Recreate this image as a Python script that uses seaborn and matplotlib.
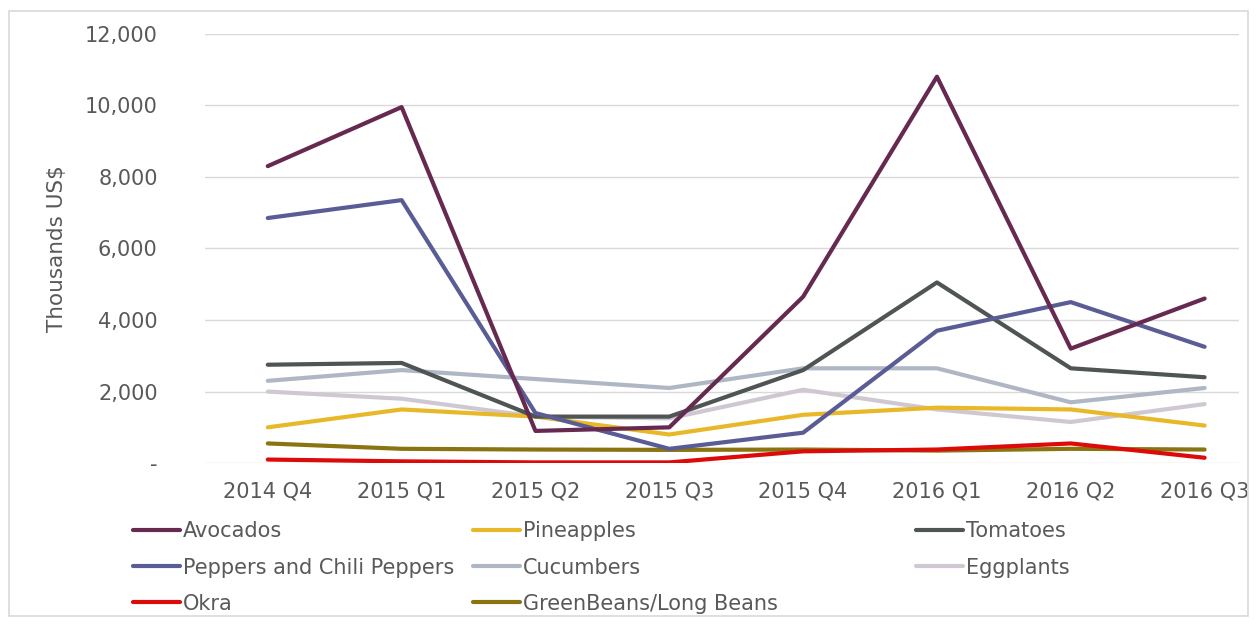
import numpy as np
import pandas as pd
import matplotlib
matplotlib.use("Agg")
import matplotlib.pyplot as plt
import seaborn as sns
from matplotlib.lines import Line2D
from matplotlib.ticker import FuncFormatter

quarters = ["2014 Q4", "2015 Q1", "2015 Q2", "2015 Q3", "2015 Q4", "2016 Q1", "2016 Q2", "2016 Q3"]

avocados = [8300, 9950, 900, 1000, 4650, 10800, 3200, 4600]
pineapples = [1000, 1500, 1300, 800, 1350, 1550, 1500, 1050]
tomatoes = [2750, 2800, 1300, 1300, 2600, 5050, 2650, 2400]
peppers = [6850, 7350, 1400, 400, 850, 3700, 4500, 3250]
cucumbers = [2300, 2600, 2350, 2100, 2650, 2650, 1700, 2100]
eggplants = [2000, 1800, 1300, 1250, 2050, 1500, 1150, 1650]
okra = [100, 50, 20, 20, 330, 380, 550, 150]
green_beans = [550, 400, 380, 370, 380, 350, 400, 380]

series = {
    "Avocados": avocados,
    "Pineapples": pineapples,
    "Tomatoes": tomatoes,
    "Peppers and Chili Peppers": peppers,
    "Cucumbers": cucumbers,
    "Eggplants": eggplants,
    "Okra": okra,
    "GreenBeans/Long Beans": green_beans,
}

colors = {
    "Avocados": "#66294F",
    "Pineapples": "#E8B828",
    "Tomatoes": "#4E5552",
    "Peppers and Chili Peppers": "#5A5C96",
    "Cucumbers": "#AEB7C3",
    "Eggplants": "#CFC8D2",
    "Okra": "#DD0A0A",
    "GreenBeans/Long Beans": "#8A7412",
}

# draw order: light lines first, dark lines on top
draw_order = ["Cucumbers", "Eggplants", "Pineapples", "GreenBeans/Long Beans", "Okra",
              "Tomatoes", "Peppers and Chili Peppers", "Avocados"]

rows = []
for name, vals in series.items():
    for i, (q, v) in enumerate(zip(quarters, vals)):
        rows.append({"pos": i, "quarter": q, "product": name, "value": v})
df = pd.DataFrame(rows)

sns.set_theme(style="white")
plt.rcParams["font.family"] = ["DejaVu Sans"]

TEXT = "#595959"
FS = 15

fig = plt.figure(figsize=(12.57, 6.25), dpi=100)
ax = fig.add_axes([0.163, 0.259, 0.823, 0.687])

for name in draw_order:
    sns.lineplot(data=df[df["product"] == name], x="pos", y="value", ax=ax,
                 color=colors[name], linewidth=3.0, legend=False, sort=False)

ax.set_xlim(-0.47, 7.26)
ax.set_ylim(0, 12000)
ax.set_yticks(np.arange(0, 12001, 2000))
ax.yaxis.set_major_formatter(FuncFormatter(lambda v, p: "-" if v == 0 else f"{int(v):,}"))
ax.set_xticks(range(len(quarters)))
ax.set_xticklabels(quarters)
ax.grid(axis="y", color="#D9D9D9", linewidth=1.0)
ax.set_axisbelow(True)
for s in ax.spines.values():
    s.set_visible(False)
ax.tick_params(axis="both", length=0, labelsize=FS, labelcolor=TEXT)
ax.tick_params(axis="y", pad=34)
ax.tick_params(axis="x", pad=13)
ax.set_xlabel("")
ax.set_ylabel("Thousands US$", fontsize=15.5, color=TEXT, labelpad=13)

# legend laid out in three columns beneath the chart
columns = [
    (["Avocados", "Peppers and Chili Peppers", "Okra"], 0.106),
    (["Pineapples", "Cucumbers", "GreenBeans/Long Beans"], 0.376),
    (["Tomatoes", "Eggplants"], 0.729),
]
for names, x0 in columns:
    handles = [Line2D([0], [0], color=colors[n], linewidth=3.0) for n in names]
    leg = fig.legend(handles, names, loc="upper left", bbox_to_anchor=(x0, 0.166),
                     frameon=False, fontsize=FS, handlelength=2.25, handletextpad=0.15,
                     labelspacing=0.78, borderaxespad=0, borderpad=0)
    for t in leg.get_texts():
        t.set_color(TEXT)

# thin frame around the chart area
fig.patches.append(plt.Rectangle((0.007, 0.015), 0.986, 0.968, transform=fig.transFigure,
                                 fill=False, edgecolor="#D9D9D9", linewidth=1.2))

fig.savefig("out.png", dpi=100, facecolor="white")
